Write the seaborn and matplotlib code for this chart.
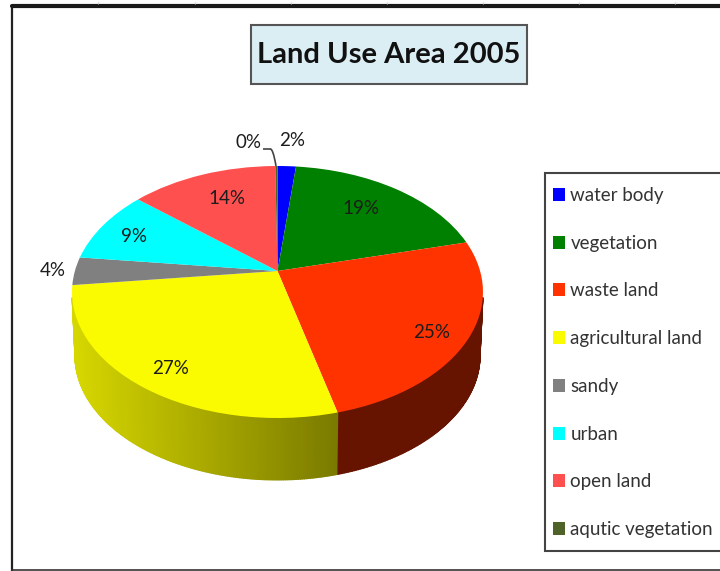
import numpy as np
import matplotlib
matplotlib.use("Agg")
import matplotlib.pyplot as plt
import seaborn as sns
from matplotlib.patches import Rectangle, PathPatch
from matplotlib.path import Path
from matplotlib.transforms import Transform

# data
categories = ["water body", "vegetation", "waste land", "agricultural land",
              "sandy", "urban", "open land", "aqutic vegetation"]
values = [1.7, 19.4, 24.9, 27.2, 3.6, 9.4, 13.6, 0.2]
colors = ["#0000FF", "#008000", "#FF3300", "#FAFA00",
          "#808080", "#00FFFF", "#FF5050", "#4F6228"]
title = "Land Use Area 2005"

sns.set_theme(style="white")
plt.rcParams['font.family'] = ['Lato', 'DejaVu Sans']

# tilted disc, pie coordinates -> pixels
cx, cy = 277.5, 271
a, b, k = 202.6, 122.5, 1 / 6
depth = 64


def tilt(xy):
    xy = np.asarray(xy, dtype=float)
    w = 1 + k * xy[:, 1]
    return np.column_stack([cx + a * xy[:, 0] / w, cy - b * xy[:, 1] / w])


class Tilt(Transform):
    input_dims = 2
    output_dims = 2
    is_separable = False

    def transform_non_affine(self, values):
        return tilt(values)


fig = plt.figure(figsize=(7.2, 5.71), dpi=100)
ax = fig.add_axes([0, 0, 1, 1])

wedges, _, pct = ax.pie(values, colors=colors, startangle=90, counterclock=False,
                        autopct="%.0f%%", wedgeprops={"linewidth": 0})
ax.set_aspect("auto")
ax.set_xlim(0, 720)
ax.set_ylim(571, 0)
ax.set_axis_on()
ax.set_xticks([])
ax.set_yticks([])
for s in ax.spines.values():
    s.set_visible(False)

tr = Tilt() + ax.transData
for w in wedges:
    w.set_transform(tr)
    w.set_zorder(3)

# side wall of the disc, only the part that faces the viewer
edges = np.concatenate([[0], np.cumsum(values)]) / np.sum(values) * 360
for i in range(len(values)):
    lo, hi = max(edges[i], 102), min(edges[i + 1], 258)
    if hi <= lo:
        continue
    steps = np.linspace(lo, hi, int((hi - lo) * 2) + 2)
    base = np.array(matplotlib.colors.to_rgb(colors[i]))
    for t0, t1 in zip(steps[:-1], steps[1:]):
        th = np.radians([t0, t1])
        rim = tilt(np.column_stack([np.sin(th), np.cos(th)]))
        low = np.column_stack([cx + (rim[:, 0] - cx) * 0.985,
                               cy + (rim[:, 1] - cy) * 0.985 + depth])
        if categories[i] == "agricultural land":
            shade = np.interp(rim[:, 0].mean(), [72, 336], [0.86, 0.49])
        else:
            shade = 0.40
        ax.fill([rim[0, 0], rim[1, 0], low[1, 0], low[0, 0]],
                [rim[0, 1], rim[1, 1], low[1, 1], low[0, 1]],
                color=base * shade, lw=1.0, zorder=2)

# percent labels
label_pos = [(292, 141), (361, 208), (432, 333), (171, 369),
             (53, 271), (134, 237), (227, 199), (248, 143)]
for t, p in zip(pct, label_pos):
    t.set_position(p)
    t.set_ha("center")
    t.set_va("center")
    t.set_fontsize(13.5)
    t.set_color("#1c1c1c")
    t.set_zorder(5)

# leader line for the 0% slice
leader = Path([(263, 149), (270, 149), (273, 148), (276, 166)],
              [Path.MOVETO, Path.LINETO, Path.CURVE3, Path.CURVE3])
ax.add_patch(PathPatch(leader, fc="none", ec="#444444", lw=1.2, zorder=4))

# outer frame
ax.plot([12, 12], [7, 571], color="#222222", lw=1.6, zorder=1)
ax.plot([12, 720], [5.5, 5.5], color="#1a1a1a", lw=3, zorder=1)
ax.plot([12, 720], [570, 570], color="#333333", lw=1.2, zorder=1)
ax.vlines([98, 195, 291, 387, 483, 579, 675], 2, 4, color="#cccccc", lw=0.8)

# title box
ax.add_patch(Rectangle((251, 25), 276, 59, fc="#DBEEF4", ec="#555555", lw=1.5, zorder=4))
ax.text(388.5, 55, title, ha="center", va="center", fontsize=21, fontweight="bold",
        color="#111111", zorder=5)

# legend box
ax.add_patch(Rectangle((544.5, 172.5), 190, 378, fc="white", ec="#444444", lw=1.5, zorder=4))
leg = ax.legend(wedges, categories, loc="upper left", bbox_to_anchor=(552.5, 187),
                bbox_transform=ax.transData, frameon=False, borderpad=0, borderaxespad=0,
                handlelength=0.68, handleheight=0.68, handletextpad=0.27,
                labelspacing=1.64, fontsize=13.5, labelcolor="#333333")
leg.set_zorder(6)

fig.savefig("out.png", dpi=100)
